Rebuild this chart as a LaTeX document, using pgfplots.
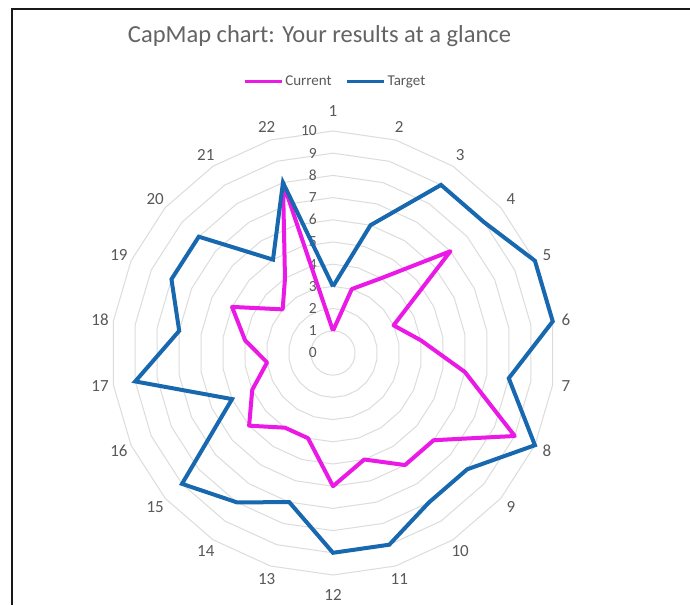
\documentclass[border=0pt]{standalone}
\usepackage{pgfplots}
\pgfplotsset{compat=1.18}
\usepackage{pgfplotstable}
\usepackage{fontspec}
\setmainfont{Carlito}
\definecolor{cur}{RGB}{235,25,230}
\definecolor{tgt}{RGB}{24,104,176}
\definecolor{gridc}{RGB}{220,220,220}
\definecolor{txt}{RGB}{89,89,89}
\definecolor{titlec}{RGB}{100,100,100}

% k = spoke (1..22, spoke 1 repeated as 23 to close the shape)
\pgfplotstableread{
k cur tgt
1 1 3
2 3 6
3 4 9
4 7 9
5 3 10
6 4 10
7 6 8
8 9 10
9 6 8
10 6 8
11 5 9
12 6 9
13 4 7
14 4 8
15 5 9
16 4 5
17 3 9
18 4 7
19 5 8
20 3 8
21 4 5
22 8 8
23 1 3
}\capmap

\begin{document}
\begin{tikzpicture}
\useasboundingbox (0pt,0pt) rectangle (690pt,605pt);
\fill[white] (0pt,0pt) rectangle (690pt,605pt);
\draw[line width=2pt, black!90] (12pt,0pt) -- (12pt,595.5pt) -- (690pt,595.5pt);

\node[font=\fontsize{24.5}{24.5}\selectfont, text=titlec] at (319.5pt,569pt) {CapMap chart: Your results at a glance};

\begin{scope}[shift={(333pt,252pt)}, x=22.2pt, y=22.2pt]
  \foreach \R in {1,...,10} {
    \draw[gridc, line width=1pt] (90:\R) \foreach \k in {1,...,21}{ -- ({90-\k*360/22}:\R)} -- cycle;
  }
  \foreach \k in {1,...,22} {
    \pgfmathsetmacro\rad{(\k==1 || \k==12) ? 10.9 : 10.6}
    \node[font=\fontsize{17}{17}\selectfont, text=txt, inner sep=0pt] at ({90-(\k-1)*360/22}:\rad) {\k};
  }
  \foreach \R in {0,...,10} {
    \node[anchor=east, inner sep=0pt, font=\fontsize{15.5}{15.5}\selectfont, text=txt] at (-0.72,\R) {\R};
  }
\end{scope}

\begin{axis}[
  at={(333pt,252pt)}, anchor=center,
  scale only axis, width=488.4pt, height=488.4pt,
  xmin=-11, xmax=11, ymin=-11, ymax=11,
  hide axis, clip=false,
  legend columns=2,
  legend style={at={(0.5047,1.0555)}, anchor=center, draw=none, fill=none,
    font=\fontsize{15}{15}\selectfont, text=txt,
    /tikz/every even column/.append style={column sep=12pt}},
  legend image code/.code={\draw[#1, line width=3pt] (0pt,0pt) -- (37pt,0pt);},
]
\addplot[cur, line width=4pt, line join=round, mark=none] table[
  x expr={\thisrow{cur}*sin((\thisrow{k}-1)*360/22)},
  y expr={\thisrow{cur}*cos((\thisrow{k}-1)*360/22)}] {\capmap};
\addlegendentry{Current}
\addplot[tgt, line width=4pt, mark=none] table[
  x expr={\thisrow{tgt}*sin((\thisrow{k}-1)*360/22)},
  y expr={\thisrow{tgt}*cos((\thisrow{k}-1)*360/22)}] {\capmap};
\addlegendentry{Target}
\end{axis}
\end{tikzpicture}
\end{document}
